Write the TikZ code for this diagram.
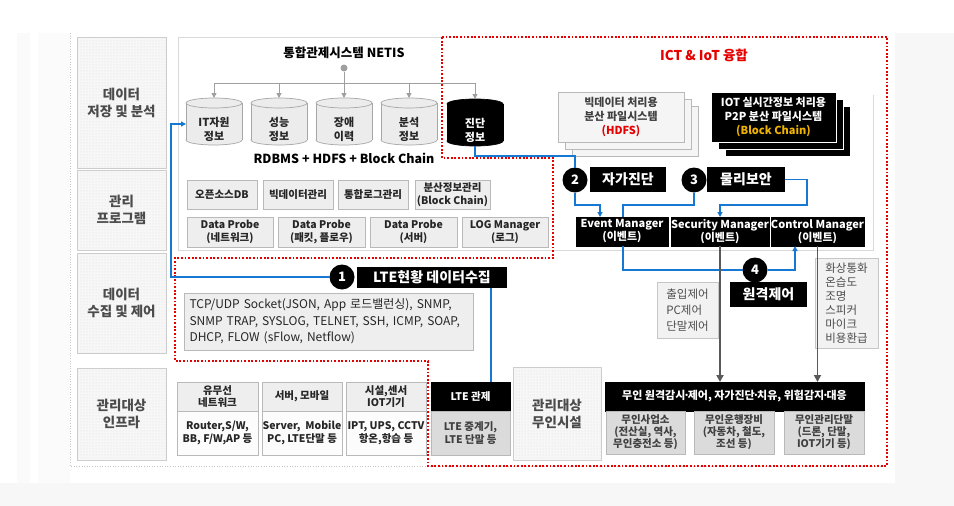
\documentclass[tikz,border=0pt]{standalone}
\usepackage{fontspec}
\setmainfont{Noto Sans CJK KR}
\usetikzlibrary{patterns,shadows,arrows.meta}
\definecolor{blu}{RGB}{22,120,210}
\definecolor{redd}{RGB}{230,0,0}
\definecolor{gold}{RGB}{240,180,0}
\definecolor{txtg}{RGB}{75,75,75}
\newcommand\fsz[2]{\fontsize{#1}{#2}\selectfont}
\newcommand\mdot{\kern-.2em·\kern-.2em}
\newcommand\mybox[7]{\node[#6, minimum width={(#4-#2)*1pt}, minimum height={(#5-#3)*1pt}] (#1) at ({(#2+#4)/2},{(#3+#5)/2}) {#7};}
\newcommand\mycyl[6]{%
  \begin{scope}[#5]
    \filldraw (#2,#4-5) ellipse [x radius=28pt, y radius=5pt];
    \fill (#2-28,#3+5) rectangle (#2+28,#4-5);
    \draw (#2-28,#3+5) -- (#2-28,#4-5) (#2+28,#3+5) -- (#2+28,#4-5);
    \filldraw (#2,#3+5) ellipse [x radius=28pt, y radius=5pt];
  \end{scope}
  \node[minimum width=56pt, minimum height={(#4-#3)*1pt}] (#1) at (#2,{(#3+#4)/2}) {};
  \node[font=\fsz{11}{14}\bfseries, align=center, #5, draw=none, fill=none] (#1t) at (#2,{(#3+#4)/2+8}) {#6};}
\begin{document}
\begin{tikzpicture}[x=1pt,y=-1pt,
 every node/.style={inner sep=0pt, outer sep=0pt},
 lbl/.style={draw=gray!40, fill=gray!6, line width=.6pt, postaction={pattern=dots, pattern color=gray!28}, text=txtg, font=\fsz{13.5}{17}\bfseries, align=center},
 sbox/.style={draw=gray!55, fill=gray!13, line width=.6pt, drop shadow={shadow xshift=.8pt, shadow yshift=-.8pt, fill=gray!40}, font=\fsz{10.5}{12.5}\bfseries, align=center, text=black!85},
 wbox/.style={sbox, fill=gray!2},
 kbox/.style={fill=black, draw=black, text=white, font=\fsz{10.5}{12.5}\bfseries, align=center},
 mgr/.style={kbox, font=\fsz{11}{13}\bfseries},
 tag/.style={fill=black, text=white, font=\fsz{14}{16}\bfseries},
 num/.style={circle, fill=black, text=white, minimum size=25pt, font=\fsz{13}{15}\bfseries},
 side/.style={draw=gray!45, fill=gray!10, line width=.6pt, font=\fsz{11.5}{14}, align=left, text=black!70},
 cylg/.style={draw=gray!70, fill=gray!15, line width=.7pt, text=black!85},
 cylk/.style={draw=black, fill=black, line width=.7pt, text=white},
 gline/.style={draw=gray!75, line width=1pt},
 garr/.style={gline, -{Triangle[length=5pt,width=5pt]}},
 bline/.style={draw=blu, line width=1.3pt},
 barr/.style={bline, -{Triangle[length=5pt,width=5pt]}},
 gthick/.style={draw=black!65, line width=1.8pt, -{Triangle[length=7pt,width=7pt]}},
 reddot/.style={draw=redd, line width=1.8pt, dash pattern=on 1.8pt off 1.8pt},
]
% background
\fill[white] (0,0) rectangle (954,506);
\fill[gray!6] (895,33) rectangle (954,506);
\fill[gray!6] (0,483) rectangle (954,506);
\fill[gray!4] (17,33) rectangle (30,483);
\fill[gray!3] (38,33) rectangle (70,483);
\useasboundingbox (0,0) rectangle (954,506);
\draw[gray!45, line width=.6pt, dotted] (70,33) -- (70,466) -- (887,466);

% main storage box
\draw[gray!30, line width=.8pt] (442,37) -- (178,37) -- (178,250) -- (873,250) -- (873,95);

% left labels
\mybox{L1}{77}{37}{166}{168}{lbl}{데이터\\저장 및 분석}
\mybox{L2}{77}{170}{166}{250}{lbl}{관리\\프로그램}
\mybox{L3}{77}{253}{166}{353}{lbl}{데이터\\수집 및 제어}
\mybox{L4}{77}{368}{166}{460}{lbl}{관리대상\\인프라}
\mybox{L5}{513}{367}{601}{460}{lbl}{관리대상\\무인시설}

% NETIS title and cylinders
\node[font=\fsz{12.5}{15}\bfseries] (title) at (344,53) {통합관제시스템 NETIS};
\node[circle, fill=gray!75, minimum size=7pt] (dot) at (344,68) {};
\coordinate (bus) at (344,83);
\mycyl{cy1}{214}{98}{145}{cylg}{IT자원\\정보}
\mycyl{cy2}{279}{98}{145}{cylg}{성능\\정보}
\mycyl{cy3}{344}{98}{145}{cylg}{장애\\이력}
\mycyl{cy4}{409}{98}{145}{cylg}{분석\\정보}
\mycyl{cy5}{475}{99}{146}{cylk}{진단\\정보}
\draw[gline] (cy1.north |- bus) -- (cy5.north |- bus);
\draw[garr] (dot) -- (cy3.north);
\draw[garr] (cy1.north |- bus) -- (cy1.north);
\draw[garr] (cy2.north |- bus) -- (cy2.north);
\draw[garr] (cy4.north |- bus) -- (cy4.north);
\draw[garr] (cy5.north |- bus) -- (cy5.north);
\node[font=\fsz{12.5}{15}\bfseries] (rdb) at (344,158) {RDBMS + HDFS + Block Chain};

% management programs
\mybox{m1}{187}{180}{257}{209}{sbox}{오픈소스DB}
\mybox{m2}{263}{180}{333}{209}{sbox}{빅데이터관리}
\mybox{m3}{338}{180}{408}{209}{sbox}{통합로그관리}
\mybox{m4}{415}{180}{490}{209}{sbox}{분산정보관리\\(Block Chain)}
\mybox{p1}{187}{217}{273}{247}{sbox}{Data Probe\\(네트워크)}
\mybox{p2}{278}{217}{365}{247}{sbox}{Data Probe\\(패킷, 플로우)}
\mybox{p3}{370}{217}{457}{247}{sbox}{Data Probe\\(서버)}
\mybox{p4}{462}{217}{548}{247}{sbox}{LOG Manager\\(로그)}

% data collection
\mybox{dc}{184}{293}{473}{350}{sbox, font=\fsz{12}{16.5}\mdseries, align=left, text width=278pt}{TCP/UDP Socket(JSON, App 로드밸런싱), SNMP,\\SNMP TRAP, SYSLOG, TELNET, SSH, ICMP, SOAP,\\DHCP, FLOW (sFlow, Netflow)}

% infrastructure
\mybox{ih1}{177}{382}{258}{411}{sbox}{유무선\\네트워크}
\mybox{ib1}{177}{411}{258}{455}{wbox}{Router,S/W,\\BB, F/W,AP 등}
\mybox{ih2}{262}{382}{342}{411}{sbox}{서버, 모바일}
\mybox{ib2}{262}{411}{342}{455}{wbox}{Server,\ \ Mobile\\PC, LTE단말 등}
\mybox{ih3}{346}{382}{426}{411}{sbox}{시설,센서\\IOT기기}
\mybox{ib3}{346}{411}{426}{455}{wbox}{IPT, UPS, CCTV\\항온,항습 등}
\mybox{lte}{431}{382}{510}{411}{kbox}{LTE 관제}
\mybox{lteb}{431}{411}{510}{455}{sbox, fill=gray!28, text=black!75}{LTE 중계기,\\LTE 단말 등}

% red dotted region
\draw[reddot] (442,37) -- (887,37) -- (887,466) -- (428,466) -- (428,361) -- (175,361) -- (175,258) -- (553,258) -- (553,158) -- (442,158) -- cycle;
\node[font=\fsz{13.5}{16}\bfseries, text=redd] (ict) at (704,55) {ICT \& IoT 융합};

% stacked file systems
\mybox{hd3}{572}{106}{698}{156}{sbox, fill=gray!8}{}
\mybox{hd2}{565}{99}{691}{149}{sbox, fill=gray!8}{}
\mybox{hd}{558}{92}{684}{142}{sbox, fill=gray!8, font=\fsz{11}{14}\bfseries, text=black!75}{빅데이터 처리용\\분산 파일시스템\\\textcolor{redd}{(HDFS)}}
\mybox{io3}{725}{106}{850}{156}{kbox, draw=white, line width=1pt}{}
\mybox{io2}{718}{99}{843}{149}{kbox, draw=white, line width=1pt}{}
\mybox{io}{711}{92}{836}{142}{kbox, draw=white, line width=1pt, font=\fsz{11}{14}\bfseries}{IOT 실시간정보 처리용\\P2P 분산 파일시스템\\\textcolor{gold}{(Block Chain)}}

% managers
\mybox{em}{576}{217}{668}{246}{mgr}{Event Manager\\(이벤트)}
\mybox{sm}{673}{217}{767}{246}{mgr}{Security Manager\\(이벤트)}
\mybox{cm}{771}{217}{864}{246}{mgr}{Control Manager\\(이벤트)}

% tags and numbers
\mybox{lab1}{357}{267}{507}{288}{tag}{LTE현황 데이터수집}
\node[num] (n1) at (342,277) {1};
\mybox{lab2}{590}{167}{666}{192}{tag}{자가진단}
\node[num] (n2) at (575,180) {2};
\mybox{lab3}{707}{167}{785}{192}{tag}{물리보안}
\node[num] (n3) at (694,180) {3};
\mybox{lab4}{730}{282}{807}{307}{tag}{원격제어}
\node[num] (n4) at (755,270) {4};

% side lists
\mybox{sg1}{657}{282}{718}{338}{side, font=\fsz{11.5}{16}}{출입제어\\PC제어\\단말제어}
\mybox{sg2}{815}{258}{878}{348}{side}{화상통화\\온습도\\조명\\스피커\\마이크\\비용환급}

% unmanned facilities
\mybox{uh}{605}{382}{864}{411}{kbox, font=\fsz{11}{13}\bfseries}{무인 원격감시\mdot 제어, 자가진단\mdot 치유, 위험감지\mdot 대응}
\mybox{u1}{606}{411}{685}{454}{sbox, fill=gray!28, font=\fsz{10.5}{12}\bfseries, text=black!75}{무인사업소\\(전산실, 역사,\\무인충전소 등)}
\mybox{u2}{694}{411}{774}{454}{sbox, fill=gray!28, font=\fsz{10.5}{12}\bfseries, text=black!75}{무인운행장비\\(자동차, 철도,\\조선 등)}
\mybox{u3}{784}{411}{864}{454}{sbox, fill=gray!28, font=\fsz{10.5}{12}\bfseries, text=black!75}{무인관리단말\\(드론, 단말,\\IOT기기 등)}

% blue connectors
\coordinate (j1) at (491,300);
\coordinate (k1) at (171,124);
\coordinate (k2) at (575,156);
\coordinate (k3) at (600,205);
\coordinate (k4) at (623,205);
\coordinate (k5) at (807,205);
\coordinate (k6) at (720,205);
\coordinate (k7) at (623,270);
\coordinate (k8) at (795,270);
\draw[bline] (lte.north -| j1) -- (lab1.south -| j1);
\draw[barr] (n1.west) -| (k1) -- (cy1.west |- k1);
\draw[bline] (cy5.south) |- (k2) -- (n2.north);
\draw[barr] (n2.south) |- (k3) -- (em.north -| k3);
\draw[bline] (em.north -| k4) -- (k4) -| (n3.south);
\draw[barr] (lab3.east) -| (k5) -- (k6) -- (sm.north -| k6);
\draw[bline] (em.south -| k7) -- (k7) -- (n4.west);
\draw[barr] (n4.east) -- (k8) -- (cm.south -| k8);

% gray control arrows
\draw[gthick] (sm.south) -- (uh.north -| sm.south);
\draw[gthick] (cm.south) -- (uh.north -| cm.south);
\end{tikzpicture}
\end{document}
